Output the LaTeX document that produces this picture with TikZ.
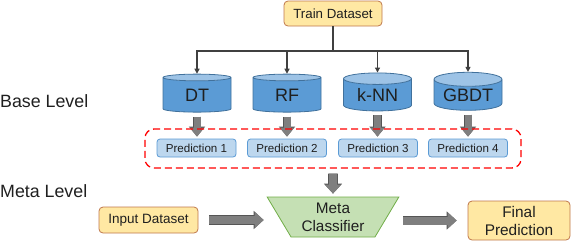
\documentclass[tikz,border=0pt]{standalone}
\usepackage{fontspec}
\setmainfont{Liberation Sans}
\usetikzlibrary{shapes.geometric,arrows.meta}
\definecolor{txt}{HTML}{1F1F1F}
\definecolor{yfill}{HTML}{FFE8A3}
\definecolor{ydraw}{HTML}{C0784C}
\definecolor{cylbody}{HTML}{5B9BD5}
\definecolor{cyltop}{HTML}{9DC3E6}
\definecolor{cylborder}{HTML}{41719C}
\definecolor{pfill}{HTML}{BDD7EE}
\definecolor{pdraw}{HTML}{5B9BD5}
\definecolor{gfill}{HTML}{C5E0B4}
\definecolor{gdraw}{HTML}{70AD47}
\definecolor{agray}{HTML}{7F7F7F}
\definecolor{adark}{HTML}{555555}
\definecolor{linegray}{HTML}{404040}
\newcommand{\cyltext}[1]{\raisebox{-3pt}{#1}}
\begin{document}
\begin{tikzpicture}[x=1pt,y=-1pt,
  ybox/.style={draw=ydraw, fill=yfill, rounded corners=4pt, line width=0.8pt, text=txt, inner sep=0pt, align=center},
  cyl/.style={cylinder, shape border rotate=90, aspect=0.28, draw=cylborder, line width=0.8pt,
    cylinder uses custom fill, cylinder body fill=cylbody, cylinder end fill=cyltop,
    minimum width=68pt, minimum height=38pt, inner sep=0pt, text=txt, font=\fontsize{18}{20}\selectfont},
  pbox/.style={draw=pdraw, fill=pfill, rounded corners=3pt, line width=0.8pt, minimum width=79pt, minimum height=18pt,
    inner sep=0pt, text=txt, font=\fontsize{11.6}{13}\selectfont},
  treeline/.style={draw=linegray, line width=1.1pt},
  treearrow/.style={treeline, -{Triangle[length=5pt,width=5pt]}},
  smallblock/.style={draw=agray, line width=7pt, -{Triangle[length=9pt,width=14pt]},
    preaction={draw=adark, line width=8.6pt, -{Triangle[length=10pt,width=15.6pt]}}},
  bigblock/.style={draw=agray, line width=8pt, -{Triangle[length=9pt,width=16pt]},
    preaction={draw=adark, line width=9.6pt, -{Triangle[length=10pt,width=17.6pt]}}},
  lvl/.style={anchor=west, inner sep=0pt, text=txt, font=\fontsize{17.8}{20}\selectfont}
]
\useasboundingbox (0,0) rectangle (572,242);

% labels
\node[lvl] (base) at (0,101.5) {Base Level};
\node[lvl] (metalvl) at (0,191) {Meta Level};

% train dataset
\node[ybox, minimum width=98pt, minimum height=25pt, font=\fontsize{13.3}{15}\selectfont] (train) at (333,13.5) {Train Dataset};
\coordinate (bus) at (333,51);

% cylinders
\node[cyl] (dt) at (197,95) {\cyltext{DT}};
\node[cyl] (rf) at (287,95) {\cyltext{RF}};
\node[cyl] (knn) at (377.5,95) {\cyltext{k-NN}};
\node[cyl] (gbdt) at (468,95) {\cyltext{GBDT}};

\draw[treeline, line width=1.6pt] (train.south) -- (bus);
\draw[treearrow] (bus) -| (dt.north);
\draw[treearrow] (bus) -| (rf.north);
\draw[treearrow] (bus) -| (knn.north);
\draw[treearrow] (bus) -| (gbdt.north);

% predictions
\node[pbox] (p1) at (196.5,148) {Prediction 1};
\node[pbox] (p2) at (287,148) {Prediction 2};
\node[pbox] (p3) at (378,148) {Prediction 3};
\node[pbox] (p4) at (468,148) {Prediction 4};

\draw[smallblock, shorten <=4pt, shorten >=2pt] (dt.south) -- (dt.south |- p1.north);
\draw[smallblock, shorten <=4pt, shorten >=2pt] (rf.south) -- (rf.south |- p2.north);
\draw[smallblock, shorten <=4pt, shorten >=2pt] (knn.south) -- (knn.south |- p3.north);
\draw[smallblock, shorten <=4pt, shorten >=2pt] (gbdt.south) -- (gbdt.south |- p4.north);

% red dashed group
\node[draw=red, dashed, dash pattern=on 7pt off 4pt, line width=1.3pt, rounded corners=9pt,
  minimum width=376pt, minimum height=39pt, inner sep=0pt] (group) at (333,148.5) {};

% meta classifier
\node[trapezium, shape border rotate=180, trapezium stretches=true, trapezium left angle=58, trapezium right angle=58,
  draw=gdraw, fill=gfill, line width=0.8pt, minimum width=132pt, minimum height=40pt, inner sep=0pt,
  align=center, text=txt, font=\fontsize{15.3}{18}\selectfont] (meta) at (333,217) {Meta\\Classifier};

\draw[bigblock, shorten <=5pt, shorten >=3pt] (group.south) -- (meta.north);

% input and final
\node[ybox, minimum width=99pt, minimum height=26pt, font=\fontsize{13.5}{15}\selectfont] (input) at (148.5,220) {Input Dataset};
\node[ybox, minimum width=102pt, minimum height=39pt, font=\fontsize{15.4}{18}\selectfont] (final) at (519,220.5) {Final\\Prediction};

\draw[bigblock, shorten <=11pt] (input.east) -- ([xshift=-15pt]input.east -| meta.west);
\draw[bigblock, shorten >=11pt] ([xshift=16pt]meta.east |- final.west) -- (final.west);
\end{tikzpicture}
\end{document}
